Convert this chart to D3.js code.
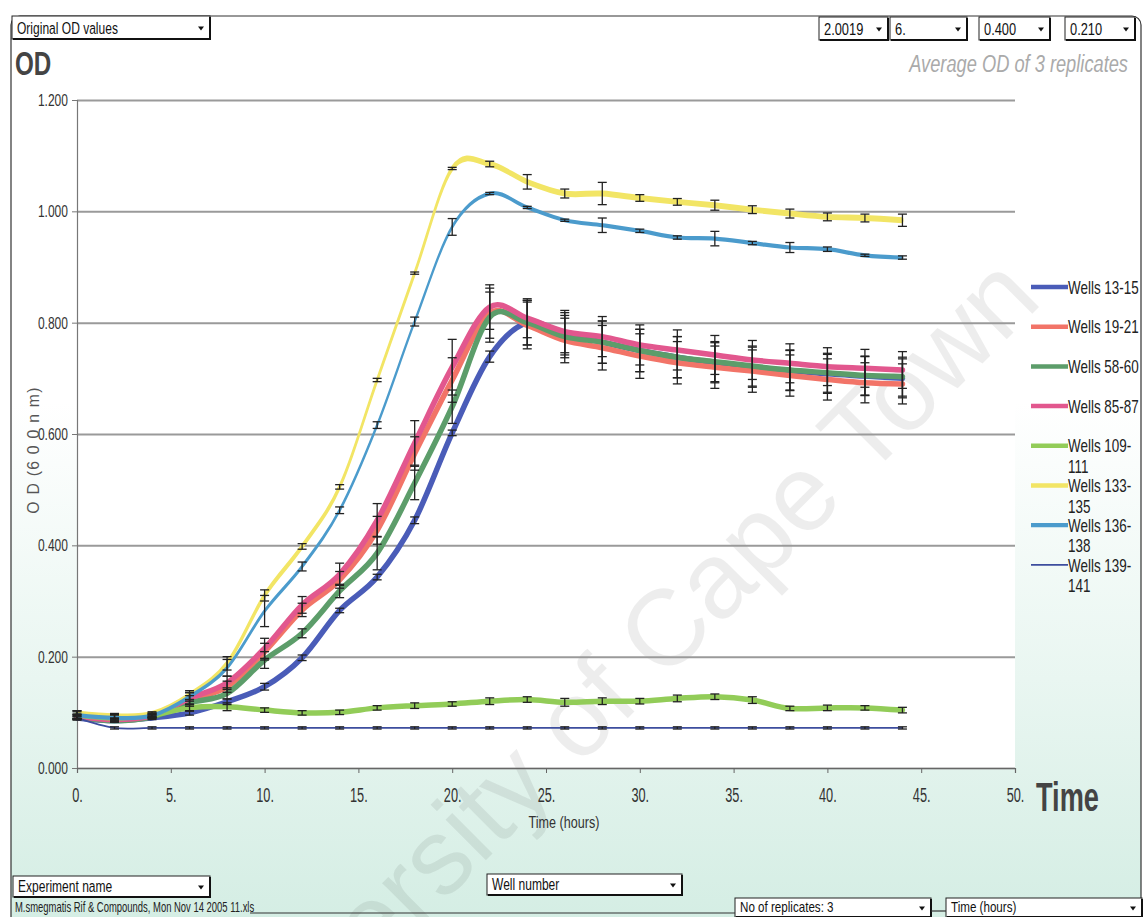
<!DOCTYPE html>
<html>
<head>
<meta charset="utf-8">
<script src="https://cdn.jsdelivr.net/npm/d3@7"></script>
<style>
  html, body { margin: 0; padding: 0; background: #fff; overflow: hidden; }
  text { font-family: "Liberation Sans", Arial, sans-serif; }
</style>
</head>
<body>
<svg id="chart" width="1144" height="917"></svg>
<script>
// ---- data: average OD (600 nm) of 3 replicate wells, read every 2 hours ----
const hours = [0, 2, 4, 6, 8, 10, 12, 14, 16, 18, 20, 22, 24, 26, 28, 30, 32, 34, 36, 38, 40, 42, 44];

const seriesNames = ["Wells 13-15", "Wells 19-21", "Wells 58-60", "Wells 85-87",
                     "Wells 109-111", "Wells 133-135", "Wells 136-138", "Wells 139-141"];

const wells13_15  = [0.090, 0.085, 0.090, 0.099, 0.119, 0.146, 0.198, 0.283, 0.343, 0.445, 0.602, 0.739, 0.800, 0.780, 0.765, 0.750, 0.738, 0.728, 0.720, 0.714, 0.708, 0.704, 0.700];
const wells19_21  = [0.092, 0.086, 0.093, 0.122, 0.146, 0.209, 0.284, 0.338, 0.427, 0.565, 0.697, 0.817, 0.795, 0.768, 0.755, 0.740, 0.728, 0.720, 0.713, 0.705, 0.698, 0.692, 0.690];
const wells58_60  = [0.092, 0.085, 0.092, 0.117, 0.134, 0.194, 0.242, 0.318, 0.386, 0.512, 0.649, 0.810, 0.800, 0.775, 0.765, 0.750, 0.738, 0.730, 0.722, 0.715, 0.710, 0.705, 0.703];
const wells85_87  = [0.093, 0.087, 0.094, 0.125, 0.153, 0.215, 0.293, 0.348, 0.445, 0.584, 0.720, 0.828, 0.808, 0.784, 0.775, 0.760, 0.751, 0.742, 0.733, 0.727, 0.721, 0.718, 0.715];
const wells109_111 = [0.095, 0.090, 0.095, 0.108, 0.110, 0.104, 0.099, 0.100, 0.108, 0.112, 0.115, 0.120, 0.123, 0.118, 0.120, 0.120, 0.125, 0.128, 0.122, 0.107, 0.108, 0.108, 0.104];
const wells133_135 = [0.098, 0.093, 0.097, 0.131, 0.188, 0.310, 0.398, 0.505, 0.697, 0.889, 1.077, 1.085, 1.053, 1.032, 1.032, 1.024, 1.017, 1.011, 1.003, 0.996, 0.990, 0.988, 0.984];
const wells136_138 = [0.095, 0.090, 0.094, 0.128, 0.180, 0.282, 0.362, 0.463, 0.616, 0.802, 0.972, 1.032, 1.007, 0.984, 0.975, 0.965, 0.953, 0.951, 0.943, 0.935, 0.932, 0.921, 0.917];
const wells139_141 = [0.090, 0.072, 0.072, 0.072, 0.072, 0.072, 0.072, 0.072, 0.072, 0.072, 0.072, 0.072, 0.072, 0.072, 0.072, 0.072, 0.072, 0.072, 0.072, 0.072, 0.072, 0.072, 0.072];

// standard deviations of the replicates (error bars)
const sd13_15  = [0.004, 0.003, 0.003, 0.004, 0.005, 0.006, 0.005, 0.004, 0.005, 0.006, 0.005, 0.010, 0.040, 0.038, 0.038, 0.038, 0.037, 0.036, 0.036, 0.036, 0.035, 0.035, 0.035];
const sd19_21  = [0.004, 0.003, 0.003, 0.008, 0.010, 0.015, 0.012, 0.015, 0.025, 0.030, 0.040, 0.045, 0.042, 0.040, 0.040, 0.040, 0.038, 0.038, 0.038, 0.037, 0.037, 0.036, 0.036];
const sd58_60  = [0.004, 0.003, 0.003, 0.006, 0.010, 0.015, 0.008, 0.012, 0.030, 0.030, 0.030, 0.045, 0.040, 0.038, 0.038, 0.038, 0.037, 0.036, 0.036, 0.036, 0.035, 0.035, 0.035];
const sd85_87  = [0.004, 0.003, 0.003, 0.010, 0.012, 0.018, 0.015, 0.020, 0.030, 0.040, 0.050, 0.040, 0.035, 0.038, 0.036, 0.036, 0.036, 0.035, 0.035, 0.035, 0.034, 0.034, 0.033];
const sd109_111 = [0.008, 0.006, 0.004, 0.006, 0.007, 0.004, 0.004, 0.004, 0.004, 0.005, 0.004, 0.006, 0.005, 0.007, 0.006, 0.005, 0.006, 0.005, 0.006, 0.004, 0.005, 0.004, 0.005];
const sd133_135 = [0.005, 0.005, 0.004, 0.008, 0.012, 0.010, 0.005, 0.004, 0.003, 0.002, 0.002, 0.005, 0.013, 0.008, 0.020, 0.006, 0.006, 0.009, 0.007, 0.008, 0.007, 0.007, 0.011];
const sd136_138 = [0.006, 0.005, 0.004, 0.008, 0.015, 0.028, 0.008, 0.006, 0.006, 0.008, 0.015, 0.002, 0.002, 0.002, 0.013, 0.003, 0.003, 0.013, 0.003, 0.009, 0.004, 0.002, 0.003];
const sd139_141 = [0.002, 0.002, 0.002, 0.002, 0.002, 0.002, 0.002, 0.002, 0.002, 0.002, 0.002, 0.002, 0.002, 0.002, 0.002, 0.002, 0.002, 0.002, 0.002, 0.002, 0.002, 0.002, 0.002];

const yTicks = [0, 0.2, 0.4, 0.6, 0.8, 1.0, 1.2];
const xTicks = [0, 5, 10, 15, 20, 25, 30, 35, 40, 45, 50];

// ---- styling ----
const colors = ["#4a5cb8", "#f27468", "#5c9d6a", "#e2578e", "#92cc58", "#f2e565", "#4b9bcc", "#3d4d9e"];
const widths = [5.5, 5.5, 5.5, 5.5, 5.5, 2.2, 2.0, 1.8];
// pen aspect: >1 draws the stroke taller than wide (flat parts look heavier than steep parts)
const penAspect = [1, 1, 1, 1, 1, 2.7, 2.1, 1];

const means = [wells13_15, wells19_21, wells58_60, wells85_87, wells109_111, wells133_135, wells136_138, wells139_141];
const sds = [sd13_15, sd19_21, sd58_60, sd85_87, sd109_111, sd133_135, sd136_138, sd139_141];
const series = seriesNames.map((name, k) => ({ name, values: means[k], sd: sds[k], color: colors[k], width: widths[k], aspect: penAspect[k] }));

const svg = d3.select("#chart");
const W = 1144, H = 917;
const plot = { left: 77, right: 1015, top: 100, bottom: 768 };

const x = d3.scaleLinear().domain([0, 50]).range([plot.left, plot.right]);
const y = d3.scaleLinear().domain([0, 1.2]).range([plot.bottom, plot.top]);

// text helper: narrow, slightly tall lettering
function label(parent, px, py, str, o = {}) {
  const t = parent.append("text")
    .attr("transform", `translate(${px},${py})${o.rot ? ` rotate(${o.rot})` : ""} scale(${o.sx ?? 0.83},${o.sy ?? 1.12})`)
    .attr("font-size", o.size ?? 14)
    .attr("fill", o.fill ?? "#222")
    .attr("text-anchor", o.anchor ?? "start")
    .text(str);
  if (o.weight) t.attr("font-weight", o.weight);
  if (o.italic) t.attr("font-style", "italic");
  if (o.dy) t.attr("dy", o.dy);
  if (o.spacing) t.attr("letter-spacing", o.spacing);
  return t;
}

// ---- background ----
const defs = svg.append("defs");
const grad = defs.append("linearGradient").attr("id", "bg").attr("x1", 0).attr("y1", 0).attr("x2", 0).attr("y2", 1);
grad.append("stop").attr("offset", "0%").attr("stop-color", "#ffffff");
grad.append("stop").attr("offset", "42%").attr("stop-color", "#ffffff");
grad.append("stop").attr("offset", "72%").attr("stop-color", "#e9f6f1");
grad.append("stop").attr("offset", "100%").attr("stop-color", "#d3ede3");

svg.append("rect").attr("width", W).attr("height", H).attr("fill", "#fff");
svg.append("rect").attr("x", 11).attr("y", 16).attr("width", 1130).attr("height", 920)
  .attr("rx", 9).attr("fill", "url(#bg)").attr("stroke", "#333").attr("stroke-width", 1.2);

// plot area
svg.append("rect").attr("x", plot.left).attr("y", plot.top)
  .attr("width", plot.right - plot.left).attr("height", plot.bottom - plot.top).attr("fill", "#fff");

// watermark (behind the data)
svg.append("text")
  .attr("transform", "translate(1044,302) rotate(-45)")
  .attr("font-size", 108)
  .attr("text-anchor", "end")
  .attr("fill", "#000")
  .attr("fill-opacity", 0.07)
  .text("University of Cape Town");

// gridlines
svg.append("g").attr("transform", `translate(${plot.left},0)`)
  .call(d3.axisLeft(y).tickValues(yTicks).tickSize(-(plot.right - plot.left)).tickFormat(""))
  .call(g => g.select(".domain").remove())
  .call(g => g.selectAll("line").attr("stroke", "#9a9a9a").attr("stroke-width", 2));

// y axis
const yAxis = svg.append("g").attr("transform", `translate(${plot.left},0)`)
  .call(d3.axisLeft(y).tickValues(yTicks).tickSize(5).tickFormat(d3.format(".3f")));
yAxis.select(".domain").attr("stroke", "#777").attr("stroke-width", 1.2);
yAxis.selectAll(".tick line").attr("stroke", "#777");
yAxis.selectAll(".tick text").remove();
yAxis.selectAll(".tick").each(function (d) {
  label(d3.select(this), -9, 0, d3.format(".3f")(d), { size: 14.5, anchor: "end", dy: "0.35em", fill: "#333", sx: 0.83, sy: 1.08 });
});

// x axis
const xAxis = svg.append("g").attr("transform", `translate(0,${plot.bottom})`)
  .call(d3.axisBottom(x).tickValues(xTicks).tickSize(5).tickFormat(d => d + "."));
xAxis.select(".domain").attr("stroke", "#666").attr("stroke-width", 1.2);
xAxis.selectAll(".tick line").attr("stroke", "#666");
xAxis.selectAll(".tick text").remove();
xAxis.selectAll(".tick").each(function (d) {
  label(d3.select(this), 0, 34, d + ".", { size: 15, anchor: "middle", fill: "#333", sx: 0.85, sy: 1.3 });
});

// ---- series lines ----
const gLines = svg.append("g");
series.forEach(s => {
  const a = s.aspect;
  const line = d3.line()
    .x((d, i) => x(hours[i]))
    .y(d => (y(d) - plot.bottom) / a)
    .curve(d3.curveCatmullRom.alpha(0));
  gLines.append("g")
    .attr("transform", `translate(0,${plot.bottom}) scale(1,${a})`)
    .append("path")
    .attr("d", line(s.values))
    .attr("fill", "none")
    .attr("stroke", s.color)
    .attr("stroke-width", s.width)
    .attr("stroke-linejoin", "round")
    .attr("stroke-linecap", "round");
});

// ---- error bars ----
const gErr = svg.append("g").attr("stroke", "#222").attr("stroke-width", 1.3);
series.forEach(s => {
  s.values.forEach((v, i) => {
    const cx = x(hours[i]);
    const y1 = y(v + s.sd[i]), y2 = y(v - s.sd[i]);
    gErr.append("line").attr("x1", cx).attr("x2", cx).attr("y1", y1).attr("y2", y2);
    gErr.append("line").attr("x1", cx - 4.5).attr("x2", cx + 4.5).attr("y1", y1).attr("y2", y1);
    gErr.append("line").attr("x1", cx - 4.5).attr("x2", cx + 4.5).attr("y1", y2).attr("y2", y2);
  });
});

// ---- legend ----
const gLeg = svg.append("g");
series.forEach((s, k) => {
  const ly = 287 + k * 39.7;
  gLeg.append("line").attr("x1", 1031).attr("x2", 1068).attr("y1", ly).attr("y2", ly)
    .attr("stroke", s.color).attr("stroke-width", Math.min(s.width * s.aspect, 4.5));
  const cut = s.name.indexOf("-") + 1;
  const parts = s.name.length > 11 ? [s.name.slice(0, cut), s.name.slice(cut)] : [s.name];
  parts.forEach((p, j) => {
    label(gLeg, 1068, ly + j * 20.5, p, { size: 16, dy: "0.36em", fill: "#222", sx: 0.84, sy: 1.15 });
  });
});

// ---- titles ----
label(svg, 15, 75, "OD", { size: 31, weight: "bold", fill: "#444", sx: 0.78, sy: 1.05 });
label(svg, 1128, 72, "Average OD of  3 replicates", { size: 22, italic: true, anchor: "end", fill: "#aaa", sx: 0.83, sy: 1.1 });
label(svg, 564, 828, "Time (hours)", { size: 15, anchor: "middle", fill: "#333", sx: 0.84, sy: 1.15 });
label(svg, 1036, 811, "Time", { size: 32, weight: "bold", fill: "#444", sx: 0.85, sy: 1.25 });
label(svg, 39, 450, "O D  (6 0 0  n m)", { size: 15, rot: -90, anchor: "middle", fill: "#555", sx: 1.05, sy: 1.05, spacing: 1.2 });

// ---- dropdown boxes ----
function dropdown(x0, y0, w, h, str, size) {
  const g = svg.append("g");
  g.append("rect").attr("x", x0).attr("y", y0).attr("width", w).attr("height", h)
    .attr("fill", "#fff").attr("stroke", "#222").attr("stroke-width", 1);
  g.append("path").attr("d", `M${x0 + 1},${y0 + h} H${x0 + w} V${y0 + 1}`)
    .attr("fill", "none").attr("stroke", "#111").attr("stroke-width", 2);
  const ax = x0 + w - 9, ay = y0 + h / 2 - 1;
  g.append("path").attr("d", `M${ax - 3},${ay} L${ax + 3},${ay} L${ax},${ay + 4} Z`).attr("fill", "#111");
  label(g, x0 + 5, y0 + h - 5, str, { size: size ?? 14.5, fill: "#111", sx: 0.83, sy: 1.08 });
  return g;
}

dropdown(12, 16, 198, 23, "Original OD values");
dropdown(819, 17, 69, 23, "2.0019", 15.5);
dropdown(890, 17, 77, 23, "6.", 15.5);
dropdown(979, 17, 71, 23, "0.400", 15.5);
dropdown(1065, 17, 70, 23, "0.210", 15.5);

dropdown(13, 876, 197, 21, "Experiment name");
dropdown(487, 874, 195, 21, "Well number");
dropdown(735, 898, 196, 19, "No of replicates: 3", 14);
dropdown(946, 898, 196, 19, "Time (hours)", 14);

// file name line
svg.append("line").attr("x1", 250).attr("x2", 735).attr("y1", 913).attr("y2", 913).attr("stroke", "#333").attr("stroke-width", 1.2);
svg.append("line").attr("x1", 931).attr("x2", 946).attr("y1", 911).attr("y2", 911).attr("stroke", "#333").attr("stroke-width", 1.2);
label(svg, 15, 912, "M.smegmatis Rif & Compounds, Mon Nov 14 2005 11.xls", { size: 13.5, fill: "#222", sx: 0.7, sy: 1.15 });
</script>
</body>
</html>
